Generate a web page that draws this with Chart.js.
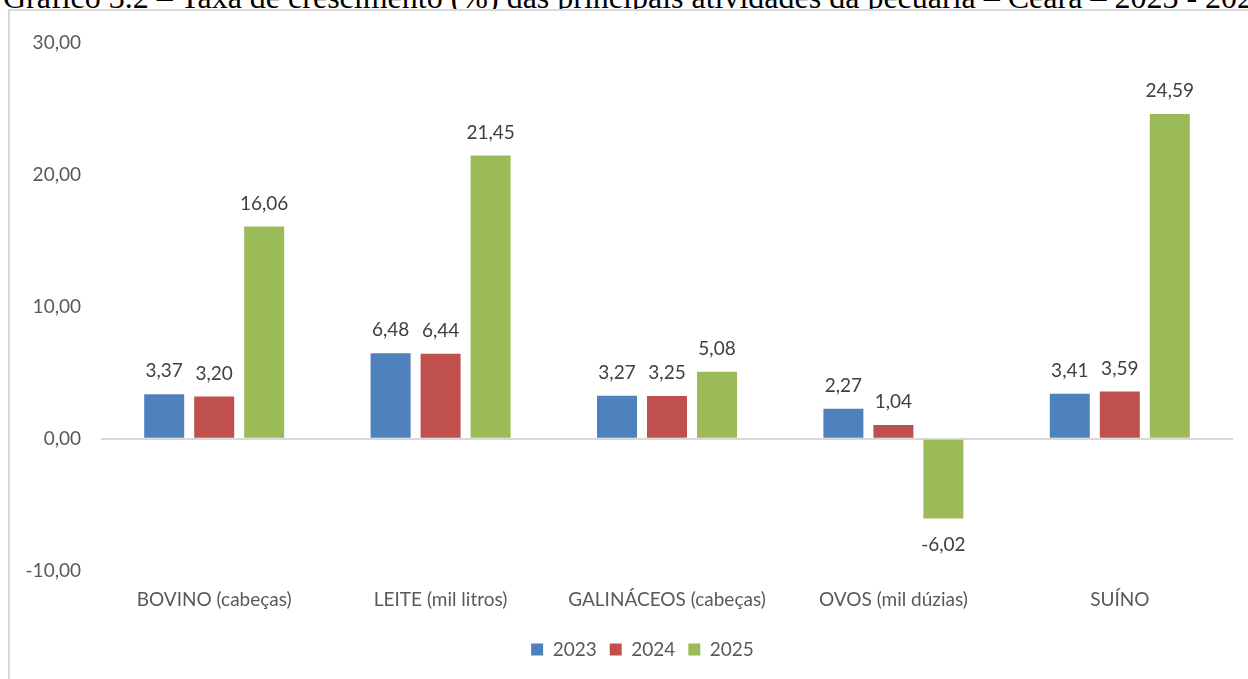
<!DOCTYPE html>
<html>
<head>
<meta charset="utf-8">
<script src="https://cdn.jsdelivr.net/npm/chart.js@4.4.0/dist/chart.umd.min.js"></script>
<style>
  html, body { margin: 0; padding: 0; background: #fff; overflow: hidden; width: 1248px; height: 679px; }
  #titulo {
    position: absolute; left: 3px; top: -19px;
    font-family: "Liberation Serif", "Times New Roman", serif;
    font-size: 32px; line-height: 32px; color: #000; white-space: nowrap;
  }
  #caixa {
    position: absolute; left: 8px; top: 9px; width: 1250px; height: 680px;
    border: 2px solid #d9d9d9; background: #fff;
  }
  #grafico { display: block; }
</style>
</head>
<body>
<div id="titulo">Gráfico 3.2 – Taxa de crescimento (%) das principais atividades da pecuária – Ceará – 2023 - 2025</div>
<div id="caixa"><canvas id="grafico" width="1238" height="668" style="width:1238px;height:668px"></canvas></div>
<script>
var categorias = ["BOVINO (cabeças)", "LEITE (mil litros)", "GALINÁCEOS (cabeças)", "OVOS (mil dúzias)", "SUÍNO"];
var anos = ["2023", "2024", "2025"];
var valores2023 = [3.37, 6.48, 3.27, 2.27, 3.41];
var valores2024 = [3.20, 6.44, 3.25, 1.04, 3.59];
var valores2025 = [16.06, 21.45, 5.08, -6.02, 24.59];
var cores = ["#4f81bd", "#c0504d", "#9bbb59"];
var minY = -10;
var maxY = 30;
var passoY = 10;

var fonte = "Lato";

function formata(v) {
	return v.toFixed(2).replace(".", ",");
}

// rotulos de dados em cima (ou embaixo) das barras
var rotulos = {
	id: "rotulos",
	afterLayout: function(chart) {
		// legenda um pouco mais para a direita e para baixo, como no original
		chart.legend.left += 21;
		chart.legend.right += 21;
		chart.legend.top += 4;
		chart.legend.bottom += 4;
	},
	afterDatasetsDraw: function(chart) {
		var ctx = chart.ctx;
		ctx.save();
		ctx.font = "19px " + fonte;
		ctx.fillStyle = "#404040";
		ctx.textAlign = "center";
		ctx.textBaseline = "middle";
		chart.data.datasets.forEach(function(ds, i) {
			var meta = chart.getDatasetMeta(i);
			meta.data.forEach(function(bar, j) {
				var v = ds.data[j];
				var y = v >= 0 ? bar.y - 23 : bar.y + 26;
				ctx.fillText(formata(v), bar.x, y);
			});
		});
		ctx.restore();
	}
};

var ctx = document.getElementById("grafico").getContext("2d");
var chart = new Chart(ctx, {
	type: "bar",
	data: {
		labels: categorias,
		datasets: [
			{ label: anos[0], data: valores2023, backgroundColor: cores[0], borderWidth: 0 },
			{ label: anos[1], data: valores2024, backgroundColor: cores[1], borderWidth: 0 },
			{ label: anos[2], data: valores2025, backgroundColor: cores[2], borderWidth: 0 }
		]
	},
	options: {
		responsive: false,
		animation: false,
		categoryPercentage: 0.6625,
		barPercentage: 0.8,
		layout: { padding: { top: 28, right: 15, bottom: 14, left: 0 } },
		plugins: {
			legend: {
				position: "bottom",
				labels: {
					boxWidth: 12, boxHeight: 12, padding: 13,
					color: "#595959",
					font: { family: fonte, size: 19 }
				}
			},
			tooltip: { enabled: false },
			title: { display: false }
		},
		scales: {
			x: {
				grid: { display: false, drawTicks: false },
				border: { display: false },
				ticks: { color: "#595959", font: { family: fonte, size: 19 }, padding: 17, maxRotation: 0 },
				afterFit: function(s) { s.height = 52; }
			},
			y: {
				min: minY, max: maxY,
				grid: {
					drawTicks: false,
					lineWidth: 2,
					color: function(c) { return c.tick && c.tick.value === 0 ? "#d9d9d9" : "rgba(0,0,0,0)"; }
				},
				border: { display: false },
				ticks: {
					stepSize: passoY, color: "#595959", padding: 20,
					font: { family: fonte, size: 19 },
					callback: function(v) { return formata(v); }
				},
				afterFit: function(s) { s.width = 91; }
			}
		}
	},
	plugins: [rotulos]
});
</script>
</body>
</html>
